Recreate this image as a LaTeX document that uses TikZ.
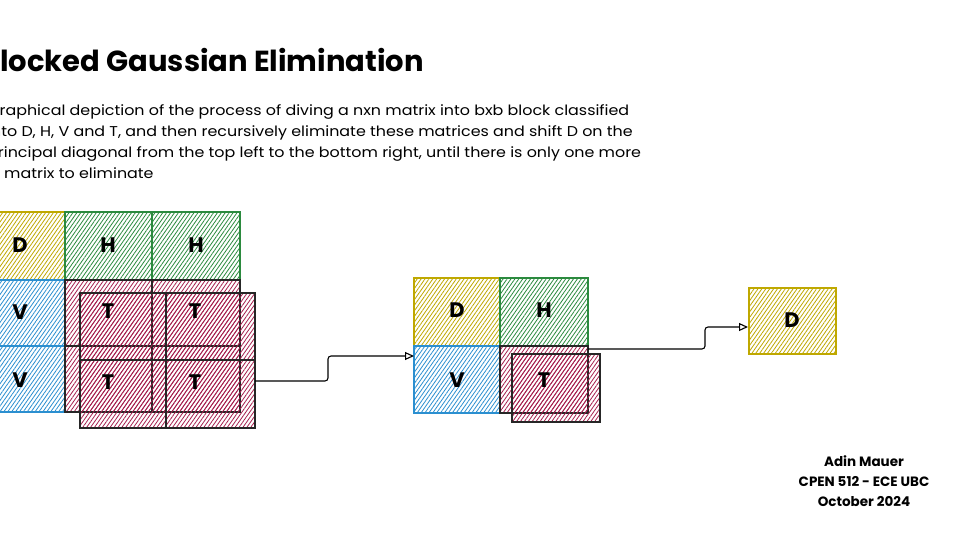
\documentclass[tikz,border=0pt]{standalone}
\usepackage{fontspec}
\setmainfont{Poppins}
\newfontfamily\descfont[FakeStretch=1.12]{Poppins}
\usetikzlibrary{patterns,patterns.meta,arrows.meta}
\definecolor{cy}{HTML}{BFA800}
\definecolor{cg}{HTML}{2B8A3E}
\definecolor{cb}{HTML}{2B8FD0}
\definecolor{cr}{HTML}{A61E4D}
\tikzset{
 hatch/.style={pattern={Lines[angle=55,distance=3.2pt,line width=0.8pt]}, pattern color=#1},
 blk/.style={draw=#1, line width=1.3pt, hatch=#1},
 tblk/.style={draw=black!85, line width=1.3pt, hatch=cr},
 lbl/.style={font=\fontsize{21}{21}\selectfont\bfseries},
 conn/.style={draw=black, line width=1.1pt, -{Triangle[open,length=9pt,width=8pt]}, rounded corners=3pt}
}
\begin{document}
\begin{tikzpicture}[x=1pt,y=-1pt]
\useasboundingbox (0,0) rectangle (960,540);
\clip (0,0) rectangle (960,540);
\fill[white] (0,0) rectangle (960,540);
\node[anchor=base west, font=\fontsize{29}{29}\selectfont\bfseries, inner sep=0] (title) at (-19,72) {Blocked Gaussian Elimination};
\node[anchor=north west, align=left, font=\descfont\fontsize{14.2}{21}\selectfont, inner sep=0] (desc) at (-13,104) {Graphical depiction of the process of diving a nxn matrix into bxb block classified\\into D, H, V and T, and then recursively eliminate these matrices and shift D on the\\principal diagonal from the top left to the bottom right, until there is only one more\\\hspace*{17pt}matrix to eliminate};
% left grid
\path[blk=cy] (-22,212) rectangle (65,280);
\path[blk=cg] (65,212) rectangle (152,280);
\path[blk=cg] (152,212) rectangle (240,280);
\path[blk=cb] (-22,280) rectangle (65,346);
\path[blk=cb] (-22,346) rectangle (65,412);
\path[tblk] (65,280) rectangle (152,346);
\path[tblk] (152,280) rectangle (240,346);
\path[tblk] (65,346) rectangle (152,412);
\path[tblk] (152,346) rectangle (240,412);
\path[tblk] (80,293) rectangle (166,360);
\path[tblk] (166,293) rectangle (255,360);
\path[tblk] (80,360) rectangle (166,428);
\path[tblk] (166,360) rectangle (255,428);
\node[lbl] (d1) at (20,245) {D};
\node[lbl] (h1) at (108,245) {H};
\node[lbl] (h2) at (196,245) {H};
\node[lbl] (v1) at (20,312) {V};
\node[lbl] (v2) at (20,380) {V};
\node[lbl] (t1) at (108,311) {T};
\node[lbl] (t2) at (195,311) {T};
\node[lbl] (t3) at (108,382) {T};
\node[lbl] (t4) at (195,382) {T};
\coordinate (a1s) at (255,381);
% middle
\path[blk=cy] (414,278) rectangle (500,346);
\path[blk=cg] (500,278) rectangle (588,346);
\path[blk=cb] (414,346) rectangle (500,413);
\path[tblk] (500,346) rectangle (588,413);
\path[tblk] (512,354) rectangle (600,422);
\node[lbl] (d2) at (457,310) {D};
\node[lbl] (h3) at (544,310) {H};
\node[lbl] (v3) at (457,380) {V};
\node[lbl] (t5) at (544,380) {T};
\coordinate (m) at (414,356);
\coordinate (a2s) at (588,349);
% right
\path[blk=cy] (749,288) rectangle (836,354);
\node[lbl] (d3) at (792,320) {D};
\coordinate (r) at (748,327);
\draw[conn] (a1s) -- (328,381) -- (328,356) -- (m);
\draw[conn] (a2s) -- (705,349) -- (705,327) -- (r);
\node[align=center, font=\fontsize{13.5}{20}\selectfont\bfseries] (auth) at (864,481) {Adin Mauer\\CPEN 512 - ECE UBC\\October 2024};
\end{tikzpicture}
\end{document}
